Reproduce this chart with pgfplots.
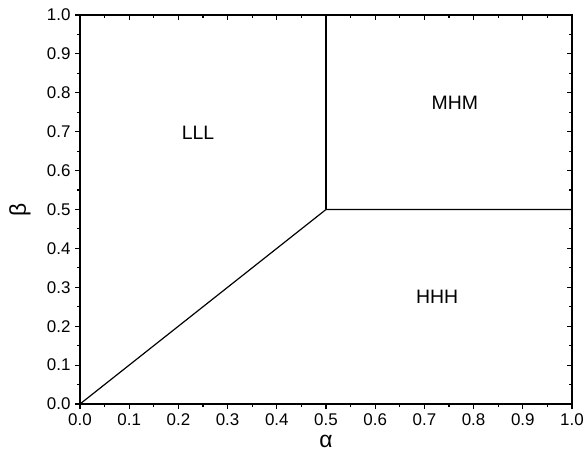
\documentclass[border=0pt]{standalone}
\usepackage{pgfplots}
\pgfplotsset{compat=1.18}
\usepackage{fontspec}
\setmainfont{Liberation Sans}
\begin{document}
\begin{tikzpicture}
\pgfplotsset{
  phase/.style={
    scale only axis,
    width=492bp, height=389bp,
    xmin=0, xmax=1, ymin=0, ymax=1,
    xtick={0,0.1,...,1.0}, ytick={0,0.1,...,1.0},
    minor x tick num=1, minor y tick num=1,
    major tick length=5bp, minor tick length=3bp,
    every tick/.style={black, line width=1.1pt},
    axis line style={line width=1.1pt},
    /pgf/number format/assume math mode=true,
    /pgf/number format/.cd, fixed, fixed zerofill, precision=1,
  },
}
\begin{axis}[phase,
  tick align=outside,
  xtick pos=left, ytick pos=left,
  ticklabel style={font=\fontsize{17}{19}\selectfont},
  xticklabel style={yshift=-1bp},
  yticklabel style={xshift=-1bp},
  xlabel={α}, ylabel={β},
  every axis x label/.style={at={(axis description cs:0.5,-0.095)}, anchor=center,
    font=\fontsize{23}{25}\selectfont},
  every axis y label/.style={at={(axis description cs:-0.122,0.5)}, anchor=center,
    rotate=90, font=\fontsize{23}{25}\selectfont},
]
\addplot[black, line width=1.2pt] coordinates {(0,0) (0.5,0.5) (1,0.5)};
\addplot[black, line width=1.2pt] coordinates {(0.5,0.5) (0.5,1)};
\node[font=\fontsize{19.5}{21}\selectfont] at (axis cs:0.24,0.697) {LLL};
\node[font=\fontsize{19.5}{21}\selectfont] at (axis cs:0.762,0.774) {MHM};
\node[font=\fontsize{19.5}{21}\selectfont] at (axis cs:0.726,0.275) {HHH};
\end{axis}
\begin{axis}[phase,
  tick align=inside,
  xtick pos=right, ytick pos=right,
  xticklabels={}, yticklabels={},
]
\end{axis}
\pgfresetboundingbox
\path (current axis.south west) ++(-80bp,-51bp);
\path (current axis.north east) ++(12bp,15bp);
\end{tikzpicture}
\end{document}
